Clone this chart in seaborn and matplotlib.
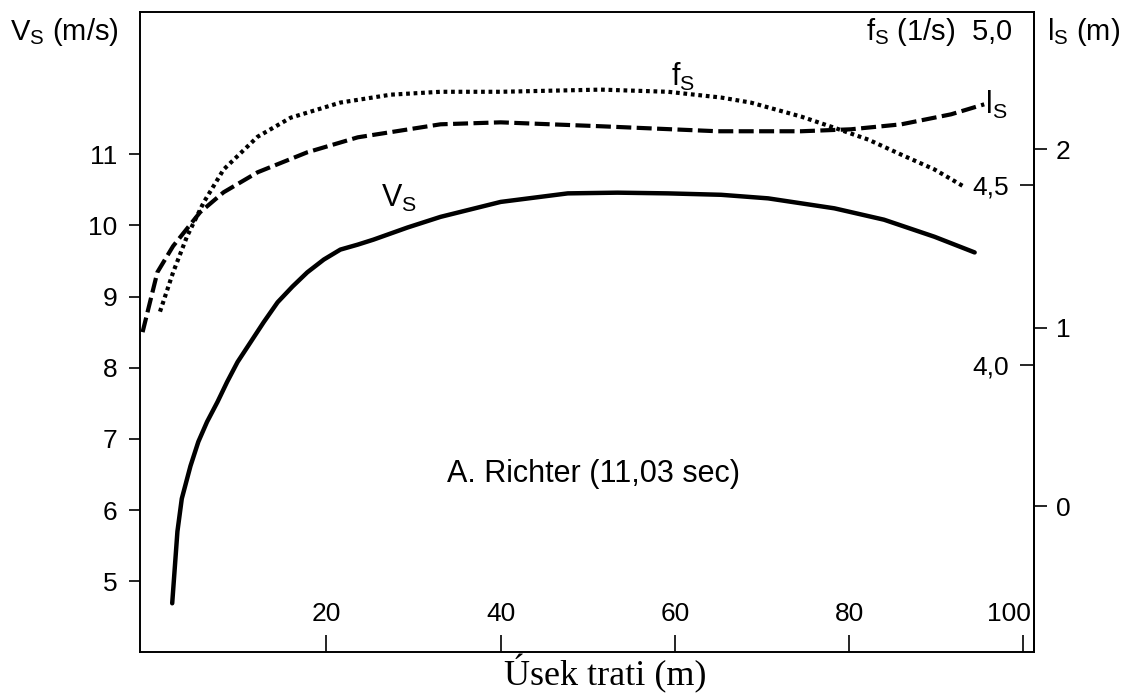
import seaborn as sns
import matplotlib.pyplot as plt
from matplotlib.transforms import ScaledTranslation

# Vs - running speed (m/s), solid line
dist_v = [2.3, 2.9, 3.4, 4.4, 5.3, 6.3, 7.5, 8.6, 9.8, 11.3, 12.8, 14.4, 16.1, 17.8,
          19.7, 21.6, 23.6, 25.4, 29.3, 33.1, 40.0, 47.7, 53.4, 59.2, 65.3, 70.7,
          78.3, 84.0, 89.8, 94.4]
speed = [4.69, 5.70, 6.16, 6.62, 6.96, 7.24, 7.52, 7.80, 8.08, 8.36, 8.64, 8.92, 9.14,
         9.34, 9.52, 9.66, 9.73, 9.80, 9.97, 10.12, 10.33, 10.45, 10.46, 10.45, 10.43,
         10.38, 10.24, 10.08, 9.84, 9.62]

# fs - step frequency (1/s), dotted line
dist_f = [0.9, 2.4, 4.0, 5.9, 8.2, 12.1, 15.9, 21.6, 27.4, 33.1, 40.0, 51.5, 59.2,
          65.3, 68.7, 74.5, 78.3, 82.2, 86.0, 89.8, 93.2]
freq = [4.147, 4.256, 4.356, 4.450, 4.542, 4.633, 4.686, 4.728, 4.750, 4.758, 4.758,
        4.764, 4.758, 4.742, 4.728, 4.689, 4.658, 4.625, 4.583, 4.542, 4.494]

# ls - step length (m), dashed line
dist_l = [-1.1, 0.6, 2.4, 5.5, 8.2, 12.1, 17.8, 23.6, 33.1, 40.0, 51.5, 64.9, 74.5,
          80.2, 86.0, 91.7, 95.5]
length = [0.975, 1.311, 1.457, 1.647, 1.759, 1.871, 1.983, 2.067, 2.140, 2.151, 2.129,
          2.101, 2.101, 2.112, 2.140, 2.196, 2.252]

x_ticks = [20, 40, 60, 80, 100]
v_ticks = [5, 6, 7, 8, 9, 10, 11]
f_ticks = [4.0, 4.5]
f_labels = ['4,0', '4,5']
l_ticks = [0, 1, 2]

sns.set_style('ticks')
plt.rcParams['font.family'] = ['Liberation Sans', 'DejaVu Sans']
plt.rcParams['mathtext.fontset'] = 'custom'
plt.rcParams['mathtext.rm'] = 'Liberation Sans'
plt.rcParams['mathtext.it'] = 'Liberation Sans'
plt.rcParams['text.color'] = 'black'
plt.rcParams['axes.labelcolor'] = 'black'
plt.rcParams['xtick.color'] = 'black'
plt.rcParams['ytick.color'] = 'black'
plt.rcParams['xtick.labelcolor'] = 'black'
plt.rcParams['ytick.labelcolor'] = 'black'

fig = plt.figure(figsize=(11.26, 7.0), dpi=100)
ax = fig.add_axes([0.1243, 0.068, 0.7939, 0.915])
ax_f = ax.twinx()
ax_l = ax.twinx()

sns.lineplot(x=dist_v, y=speed, ax=ax, color='black', lw=3.2)
sns.lineplot(x=dist_f, y=freq, ax=ax_f, color='black', lw=3.0,
             linestyle=(0, (0.9, 0.9)), dash_capstyle='butt')
sns.lineplot(x=dist_l, y=length, ax=ax_l, color='black', lw=3.0,
             linestyle=(0, (3.6, 1.3)), dash_capstyle='butt')

ax.set_xlim(-1.4, 101.2)
ax.set_ylim(4.0, 13.0)
ax_f.set_ylim(3.2, 4.98)
ax_l.set_ylim(-0.82, 2.77)

for a in (ax, ax_f, ax_l):
    for s in a.spines.values():
        s.set_linewidth(1.4)
        s.set_color('black')
for a in (ax_f, ax_l):
    a.spines['left'].set_visible(False)
    a.spines['top'].set_visible(False)
    a.spines['bottom'].set_visible(False)
ax_f.spines['right'].set_visible(False)

# bottom axis: inward ticks, labels inside the box
ax.set_xticks(x_ticks)
ax.set_xticklabels([str(t) for t in x_ticks])
ax.tick_params(axis='x', direction='in', length=12, width=1.2, pad=-36,
               labelsize=19)
last = ax.get_xticklabels()[-1]
last.set_horizontalalignment('right')
last.set_transform(last.get_transform() + ScaledTranslation(5 / 72, 0, fig.dpi_scale_trans))
ax.set_xlabel('Úsek trati (m)', family='Liberation Serif', fontsize=26, labelpad=1,
              x=0.52)

# left axis
ax.set_yticks(v_ticks)
ax.tick_params(axis='y', direction='out', length=8, width=1.2, pad=8,
               labelsize=19)
ax.set_ylabel('')

# fs axis: inward ticks on the right spine, labels inside
ax_f.set_yticks(f_ticks)
ax_f.set_yticklabels(f_labels)
ax_f.tick_params(axis='y', direction='in', length=10, width=1.2, pad=-18,
                 labelsize=19)
for lab in ax_f.get_yticklabels():
    lab.set_horizontalalignment('right')
ax_f.set_ylabel('')

# ls axis: outward ticks
ax_l.set_yticks(l_ticks)
ax_l.tick_params(axis='y', direction='out', length=9, width=1.2, pad=7,
                 labelsize=19)
ax_l.set_ylabel('')

# axis titles and curve labels
fig.text(0.009, 0.955, r'$\mathregular{V_S}$ (m/s)', fontsize=21, va='center')
fig.text(0.899, 0.955, r'$\mathregular{f_S}$ (1/s)  5,0', fontsize=21,
         va='center', ha='right')
fig.text(0.930, 0.955, r'$\mathregular{l_S}$ (m)', fontsize=21, va='center')

ax.text(26.3, 10.38, r'$\mathregular{V_S}$', fontsize=22, va='center')
ax_f.text(59.6, 4.80, r'$\mathregular{f_S}$', fontsize=22, va='center')
ax_l.text(95.6, 2.25, r'$\mathregular{l_S}$', fontsize=22, va='center')
ax.text(50.6, 6.5, 'A. Richter (11,03 sec)', fontsize=22, ha='center', va='center')

plt.savefig('out.png', dpi=100)
